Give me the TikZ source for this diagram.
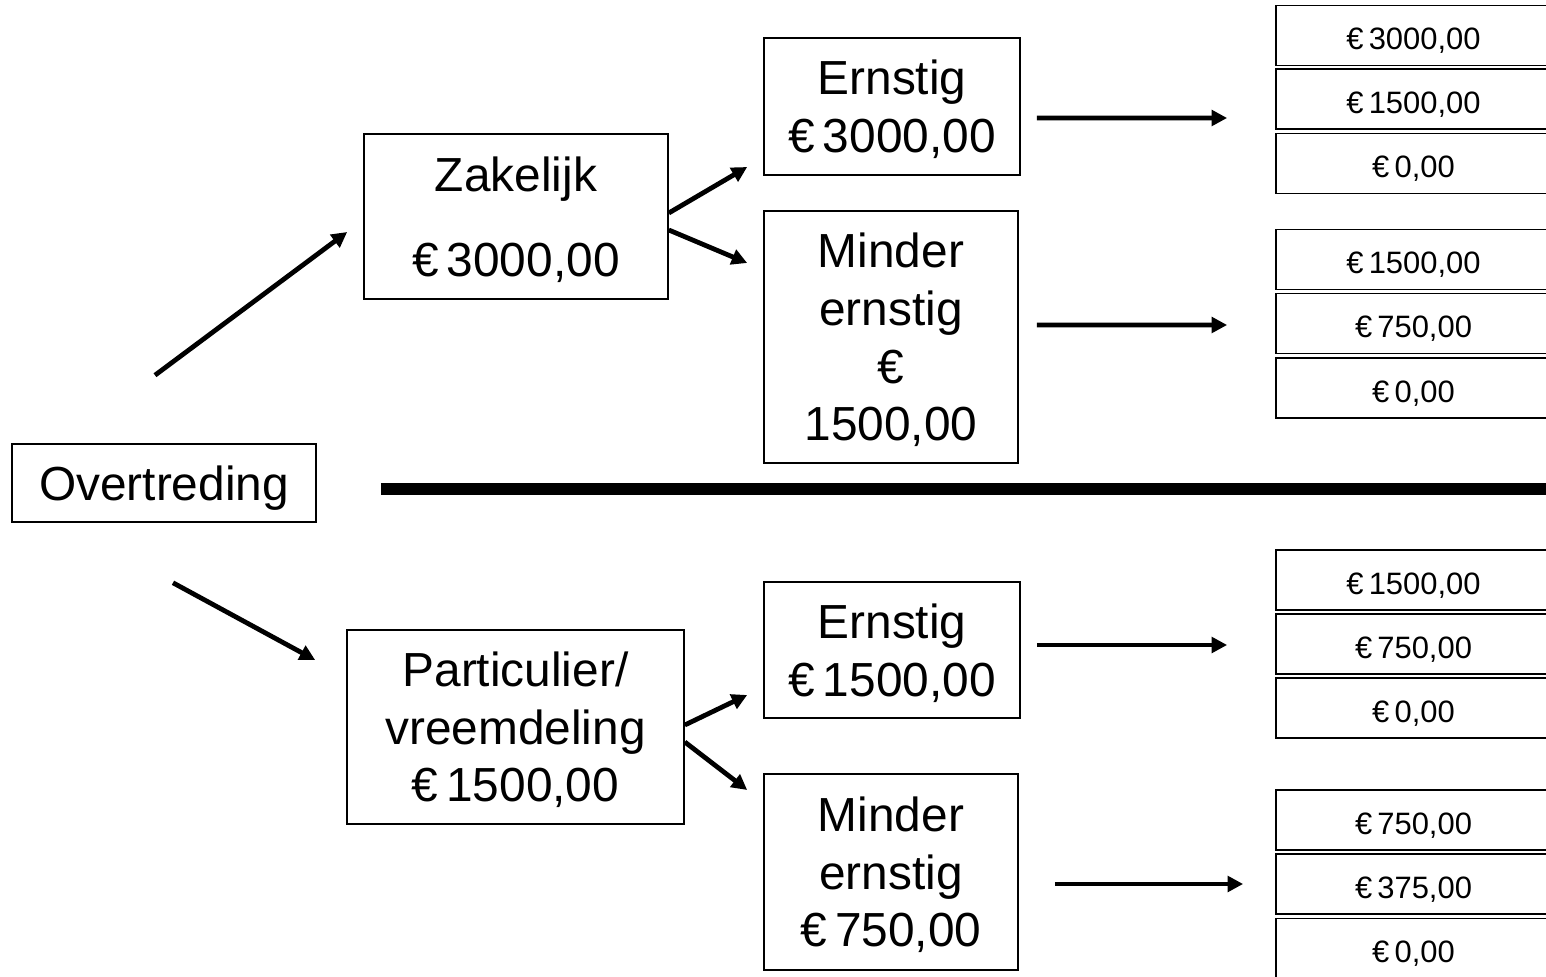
\documentclass[tikz,border=0pt]{standalone}
\usepackage{fontspec}
\setmainfont{Liberation Sans}
\usetikzlibrary{arrows.meta, positioning, calc}
\tikzset{box/.style={rectangle,draw,line width=1.1pt,align=center,inner sep=0pt,text depth=-2pt,font=\fontsize{34}{41}\selectfont},
         fine/.style={rectangle,draw,line width=1.2pt,minimum width=6.875cm,minimum height=1.5cm,inner sep=0pt,text height=20pt,text depth=0pt,font=\fontsize{22}{26}\selectfont},
         arrow/.style={-{Triangle[length=11pt,width=11pt]},line width=3.4pt},
         divider/.style={line width=8.5pt}}

\begin{document}
\begin{tikzpicture}[x=0.025cm,y=-0.025cm]
    \useasboundingbox (0,0) rectangle (1546,977);
    \clip (0,0) rectangle (1546,977);
    % left part
    \node (ovt) [box, minimum width=7.6cm, minimum height=1.95cm] at (164,483) {Overtreding};
    \node (zak) [box, minimum width=7.6cm, minimum height=4.125cm] at (516,216.5) {Zakelijk\\[0.675cm]€\,3000,00};
    \node (part) [box, minimum width=8.425cm, minimum height=4.85cm] at (515.5,727) {Particulier/\\vreemdeling\\€\,1500,00};
    % middle column
    \node (ern1) [box, minimum width=6.4cm, minimum height=3.425cm] at (892,106.5) {Ernstig\\€\,3000,00};
    \node (min1) [box, minimum width=6.35cm, minimum height=6.3cm] at (891,337) {Minder\\ernstig\\€\\1500,00};
    \node (ern2) [box, minimum width=6.4cm, minimum height=3.4cm] at (892,650) {Ernstig\\€\,1500,00};
    \node (min2) [box, minimum width=6.35cm, minimum height=4.9cm] at (891,872) {Minder\\ernstig\\€\,750,00};
    % right column
    \foreach \g/\ya/\yb/\yc/\ta/\tb/\tc in {A/35.5/99/163.5/3000/1500/0, B/259.5/323.5/388/1500/750/0, C/580/644/708/1500/750/0, D/820/884/948.5/750/375/0} {
        \node (p\g1) [fine] at (1413.5,\ya) {€\,\ta,00};
        \node (p\g2) [fine] at (1413.5,\yb) {€\,\tb,00};
        \node (p\g3) [fine] at (1413.5,\yc) {€\,\tc,00};
    }
    % arrows
    \draw[arrow] ($(ovt.north)+(-9,-68)$) -- ($(zak.west)+(-16,15.5)$);
    \draw[arrow] ($(ovt.south)+(9,60)$) -- ($(part.west)+(-31,-67)$);
    \draw[arrow] ($(zak.east)+(0,-3.5)$) -- ($(ern1.west)+(-16,60.5)$);
    \draw[arrow] ($(zak.east)+(0,13.5)$) -- ($(min1.west)+(-16,-74)$);
    \draw[arrow] ($(part.east)+(0,-2)$) -- ($(ern2.west)+(-16,45)$);
    \draw[arrow] ($(part.east)+(0,15)$) -- ($(min2.west)+(-16,-82)$);
    \draw[arrow] ($(ern1.east)+(16,11.5)$) -- ($(pA2.west)+(-48,19)$);
    \draw[arrow] ($(min1.east)+(18,-12)$) -- ($(pB2.west)+(-48,1.5)$);
    \draw[arrow] ($(ern2.east)+(16,-5)$) -- ($(pC2.west)+(-48,1)$);
    \draw[arrow] ($(min2.east)+(36,12)$) -- ($(pD2.west)+(-32,0)$);
    % dividing line
    \draw[divider] ($(ovt.east)+(64,6)$) -- (1560,489);
\end{tikzpicture}
\end{document}
